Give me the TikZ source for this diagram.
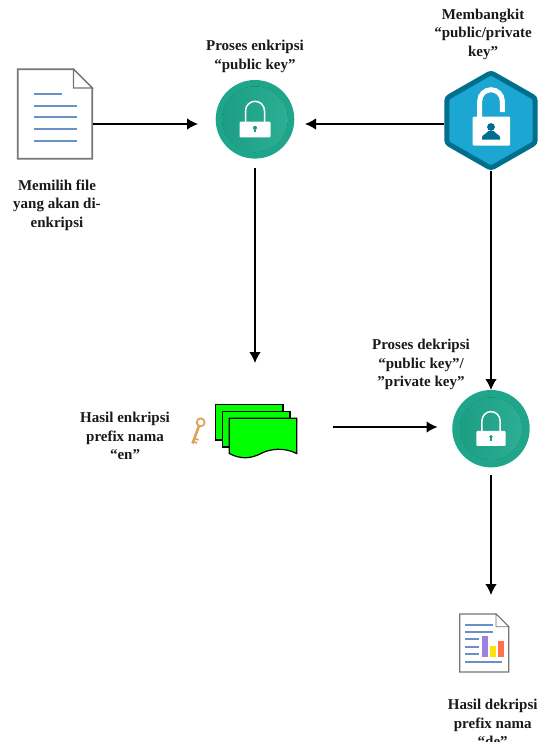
\documentclass[tikz,border=0pt]{standalone}
\usepackage{fontspec}
\setmainfont{Liberation Serif}
\usetikzlibrary{arrows.meta}
\definecolor{tealouter}{HTML}{1FA68A}
\definecolor{tealdark}{HTML}{1C9E84}
\definecolor{teallight}{HTML}{2CAE94}
\definecolor{hexdark}{HTML}{006F8E}
\definecolor{hexfill}{HTML}{1CA6D2}
\definecolor{linesblue}{HTML}{6A90C8}
\definecolor{pagegray}{HTML}{767676}
\definecolor{keytan}{HTML}{DDA458}
\tikzset{
	conn/.style={->, >={Latex[length=11pt,width=11.5pt]}, line width=1.3pt, black},
	caption/.style={font=\bfseries\fontsize{15}{18.5}\selectfont, align=center, text=black!90, inner sep=0pt},
	spot/.style={inner sep=0pt, outer sep=0pt},
	lockdisc/.style={circle, spot, fill=tealouter},
	page/.style={draw=pagegray, line width=1.8pt, fill=white, line join=miter},
	textline/.style={linesblue, line width=1.6pt},
	sheet/.style={draw=black, line width=1.2pt, fill=green},
	padlock/.pic={
		\fill[left color=tealdark, right color=teallight] (0, 0) circle (33);
		\draw[tealouter, line width=1.2pt] (0, 0) circle (33.6);
		\draw[white, line width=1.5pt] (-9.5, 3) -- (-9.5, -8.5) arc (180:360:9.5) -- (9.5, 3);
		\fill[white, rounded corners=1pt] (-15.5, 2.4) rectangle (15.5, 18);
		\fill[tealdark] (0, 8.5) circle (2);
		\fill[tealdark] (-1.1, 9) rectangle (1.1, 13);
	}
}
\begin{document}
\begin{tikzpicture}[x=1pt, y=-1pt]
	\useasboundingbox (0, 0) rectangle (545, 742);
	% document on the left
	\node[spot, minimum width=75, minimum height=90] (docfile) at (55, 114) {};
	\draw[page] (17.7, 69.3) -- (73.5, 69.3) -- (92.2, 88) -- (92.2, 158.7) -- (17.7, 158.7) -- cycle;
	\draw[pagegray, line width=1.2pt, fill=white] (73.5, 69.3) -- (73.5, 88) -- (92.2, 88) -- cycle;
	\draw[textline] (33.7, 94) -- (62, 94);
	\foreach \y in {106, 117, 129, 141} {
		\draw[textline] (33.7, \y) -- (77, \y);
	}
	\node[caption] (doclabel) at (57, 205) {Memilih file\\yang akan di-\\enkripsi};
	% encryption lock
	\node[lockdisc, minimum size=78.6] (lockenc) at (255, 119.3) {};
	\pic at (lockenc) {padlock};
	\node[caption] (enclabel) at (255, 56.5) {Proses enkripsi\\“public key”};
	% key generator
	\node[spot, minimum width=93.4, minimum height=100.7] (keygen) at (491, 120.4) {};
	\draw[hexdark, fill=hexfill, line width=5pt, rounded corners=3pt] (491, 72.7) -- (535.2, 98) -- (535.2, 143) -- (491, 168.3) -- (446.8, 143) -- (446.8, 98) -- cycle;
	\draw[white, line width=5pt] (479.7, 118) -- (479.7, 101) arc (180:360:11.3) -- (502.3, 112);
	\fill[white, rounded corners=1pt] (472.7, 116.7) rectangle (510, 145.7);
	\fill[hexdark] (491, 127) circle (3.9);
	\fill[hexdark] (482, 139.5) -- (482, 137) .. controls (483, 134) and (487, 134) .. (488.5, 131) -- (493.5, 131) .. controls (495, 134) and (499, 134) .. (500, 137) -- (500, 139.5) -- cycle;
	\node[caption] (keylabel) at (483, 34) {Membangkit\\“public/private\\key”};
	% encrypted files
	\node[spot, minimum width=83, minimum height=62] (cipher) at (255, 427) {};
	\draw[sheet] (215.7, 404.3) -- (283, 404.3) -- (283, 440) -- (215.7, 440) -- cycle;
	\draw[sheet] (222.3, 411.3) -- (290, 411.3) -- (290, 447) -- (222.3, 447) -- cycle;
	\draw[sheet] (229.3, 418.3) -- (296.7, 418.3) -- (296.7, 453.5) .. controls (284, 447) and (270, 449) .. (262, 453) .. controls (250, 459.5) and (240, 459) .. (229.3, 453.5) -- cycle;
	\draw[keytan, line width=1.8pt] (200.7, 422.3) circle (4);
	\draw[keytan, line width=2.6pt] (198.8, 426.5) -- (192.5, 443.5);
	\draw[keytan, line width=1.6pt] (194.6, 438.5) -- (198.5, 440);
	\draw[keytan, line width=1.6pt] (193.6, 441.5) -- (197, 443);
	\node[caption] (cipherlabel) at (125, 436.3) {Hasil enkripsi\\prefix nama\\“en”};
	% decryption lock
	\node[lockdisc, minimum size=77.4] (lockdec) at (491, 428.7) {};
	\pic[scale=0.95] at (lockdec) {padlock};
	\node[caption] (declabel) at (421, 364.5) {Proses dekripsi\\“public key”/\\”private key”};
	% result document
	\node[spot, minimum width=49, minimum height=58] (plainfile) at (484.2, 643) {};
	\draw[page, line width=1.4pt] (459.7, 614) -- (496, 614) -- (508.7, 626.7) -- (508.7, 672) -- (459.7, 672) -- cycle;
	\draw[pagegray, line width=.8pt, fill=white] (496, 614) -- (496, 626.7) -- (508.7, 626.7) -- cycle;
	\draw[textline] (465, 625) -- (493.3, 625);
	\draw[textline] (465, 632) -- (493.3, 632);
	\draw[textline] (465, 639) -- (479, 639);
	\draw[textline] (465, 647) -- (479, 647);
	\draw[textline] (465, 654) -- (479, 654);
	\draw[textline] (465, 662) -- (502, 662);
	\fill[violet!50!blue!50] (482, 636) rectangle (488, 656.7);
	\fill[yellow!85!orange] (490, 646) rectangle (496, 656.7);
	\fill[red!60!orange!70] (498, 640.7) rectangle (504, 656.7);
	\node[caption] (plainlabel) at (492.7, 723) {Hasil dekripsi\\prefix nama\\“de”};
	% connectors
	\draw[conn] ([yshift=-10]docfile.east) -- ([shift={(-17.7, 4.7)}]lockenc.west);
	\draw[conn] ([yshift=-3.6]keygen.west) -- ([shift={(10.7, 4.7)}]lockenc.east);
	\draw[conn] ([yshift=-9.4]lockenc.south) -- ([yshift=33]cipher.north);
	\draw[conn] (keygen.south) -- (lockdec.north);
	\draw[conn] ([xshift=36.5]cipher.east) -- ([shift={(-14.8, -1.7)}]lockdec.west);
	\draw[conn] ([yshift=-7.6]lockdec.south) -- ([yshift=19]plainfile.north -| lockdec.south);
\end{tikzpicture}
\end{document}
